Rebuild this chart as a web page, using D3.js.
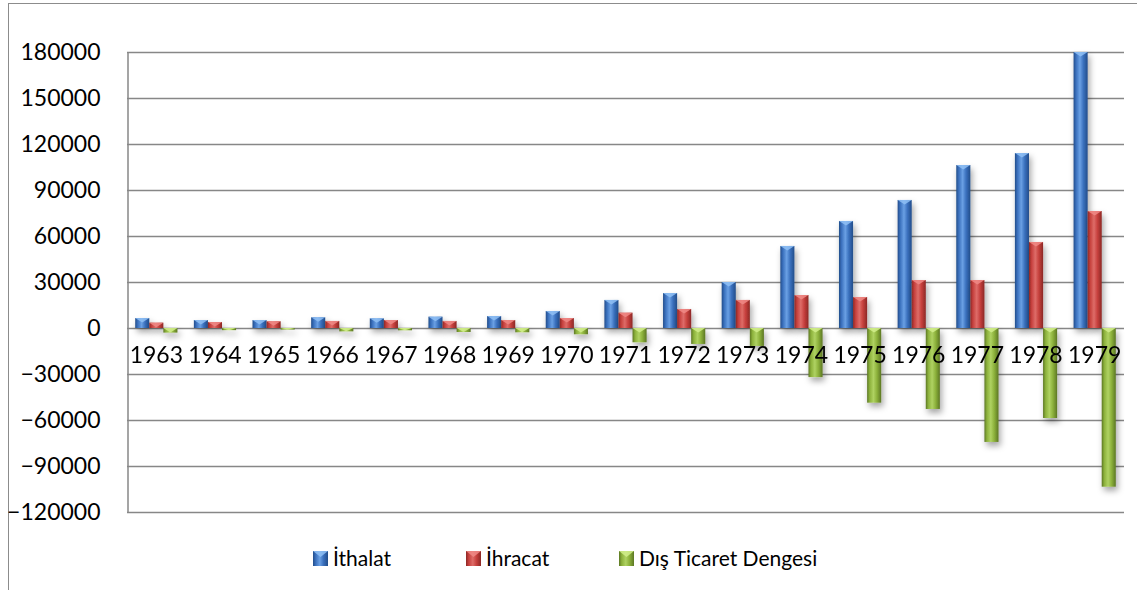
<!DOCTYPE html>
<html>
<head>
<meta charset="utf-8">
<script src="https://cdn.jsdelivr.net/npm/d3@7"></script>
<style>
  html, body { margin: 0; padding: 0; background: #fff; }
  svg { display: block; font-family: Lato, "Open Sans", sans-serif; }
</style>
</head>
<body>
<svg id="chart" width="1137" height="590"></svg>
<script>
const years = ['1963', '1964', '1965', '1966', '1967', '1968', '1969', '1970', '1971', '1972', '1973', '1974', '1975', '1976', '1977', '1978', '1979'];
const ithalat = [6500, 5200, 5200, 7000, 6300, 7400, 7800, 11100, 18300, 22800, 30000, 53500, 69800, 83500, 106300, 114100, 180000];
const ihracat = [3500, 3900, 4400, 4600, 5200, 4600, 5200, 6500, 10000, 12400, 18300, 21500, 20200, 31300, 31300, 56100, 76300];
const denge = [-3000, -1400, -1000, -2200, -1500, -2600, -2800, -4100, -9300, -10400, -11700, -32000, -48700, -52800, -74300, -58700, -103500];
const yTicks = [-120000, -90000, -60000, -30000, 0, 30000, 60000, 90000, 120000, 150000, 180000];
const seriesNames = ['İthalat', 'İhracat', 'Dış Ticaret Dengesi'];

const palette = [
  { id: 'blue', edge: '#224d8a', mid: '#3a70bd', light: '#6aa0e4', tip: '#8fc0f5' },
  { id: 'red', edge: '#8c2825', mid: '#c6403d', light: '#de6c68', tip: '#f08a86' },
  { id: 'green', edge: '#5c7724', mid: '#8cb13b', light: '#afd262', tip: '#d2ee8c' }
];

const series = [ithalat, ihracat, denge];

const svg = d3.select('#chart');
const defs = svg.append('defs');

palette.forEach(p => {
  const g = defs.append('linearGradient').attr('id', 'grad-' + p.id)
    .attr('x1', '0%').attr('x2', '100%').attr('y1', '0%').attr('y2', '0%');
  g.append('stop').attr('offset', '0%').attr('stop-color', p.edge);
  g.append('stop').attr('offset', '18%').attr('stop-color', p.mid);
  g.append('stop').attr('offset', '45%').attr('stop-color', p.light);
  g.append('stop').attr('offset', '70%').attr('stop-color', p.mid);
  g.append('stop').attr('offset', '100%').attr('stop-color', p.edge);
});

const shadow = defs.append('filter').attr('id', 'shadow')
  .attr('x', '-50%').attr('y', '-20%').attr('width', '200%').attr('height', '160%');
shadow.append('feDropShadow')
  .attr('dx', 2).attr('dy', 4).attr('stdDeviation', 3)
  .attr('flood-color', '#000').attr('flood-opacity', 0.35);

// outer frame
svg.append('rect')
  .attr('x', 8.5).attr('y', 3.5).attr('width', 1140).attr('height', 600)
  .attr('fill', 'none').attr('stroke', '#8c8c8c').attr('stroke-width', 1);

const x = d3.scaleBand().domain(years).range([127, 1124]);
const xSub = d3.scaleBand().domain([0, 1, 2])
  .range([x.bandwidth() * 0.14, x.bandwidth() * 0.86]);
const y = d3.scaleLinear().domain([-120000, 180000]).range([512, 52]);

// gridlines
svg.append('g')
  .selectAll('line')
  .data(yTicks)
  .join('line')
  .attr('x1', 127).attr('x2', 1124)
  .attr('y1', d => Math.round(y(d)) + 0.5)
  .attr('y2', d => Math.round(y(d)) + 0.5)
  .attr('stroke', '#878787').attr('stroke-width', 1.5);

// y axis
const yAxis = svg.append('g')
  .attr('transform', 'translate(127.5,0)')
  .call(d3.axisLeft(y).tickValues(yTicks).tickSize(0).tickPadding(27).tickFormat(d3.format('d')));
yAxis.select('.domain').attr('stroke', '#878787').attr('stroke-width', 1.5);
yAxis.selectAll('text')
  .attr('font-size', 23).attr('fill', '#000')
  .attr('font-family', 'Lato, "Open Sans", sans-serif');

// bars
const bars = svg.append('g');
series.forEach((vals, s) => {
  const p = palette[s];
  const g = bars.append('g').attr('filter', 'url(#shadow)');
  const w = xSub.bandwidth();
  vals.forEach((v, i) => {
    const bx = x(years[i]) + xSub(s);
    const y0 = y(0), y1 = y(v);
    const top = Math.min(y0, y1), h = Math.abs(y1 - y0);
    g.append('rect')
      .attr('x', bx).attr('y', top).attr('width', w).attr('height', h)
      .attr('fill', 'url(#grad-' + p.id + ')');
    // bevel tip at the top end of the bar
    const d = Math.min(w * 0.32, h);
    g.append('path')
      .attr('d', `M${bx},${top}L${bx + w},${top}L${bx + w / 2},${top + d}Z`)
      .attr('fill', p.tip).attr('opacity', 0.85);
  });
});

// category labels
svg.append('g')
  .selectAll('text')
  .data(years)
  .join('text')
  .attr('x', d => x(d) + x.bandwidth() / 2)
  .attr('y', 363)
  .attr('text-anchor', 'middle')
  .attr('font-size', 23)
  .attr('fill', '#000')
  .text(d => d);

// legend
const legend = svg.append('g').attr('transform', 'translate(313,551)');
seriesNames.forEach((name, i) => {
  const p = palette[i];
  const lg = legend.append('g').attr('transform', `translate(${i * 153},0)`);
  lg.append('rect').attr('width', 15).attr('height', 15)
    .attr('fill', 'url(#grad-' + p.id + ')');
  lg.append('path').attr('d', 'M0,0L15,0L7.5,6Z').attr('fill', p.tip).attr('opacity', 0.85);
  lg.append('text').attr('x', 20).attr('y', 15)
    .attr('font-size', 21).attr('fill', '#000').text(name);
});
</script>
</body>
</html>
